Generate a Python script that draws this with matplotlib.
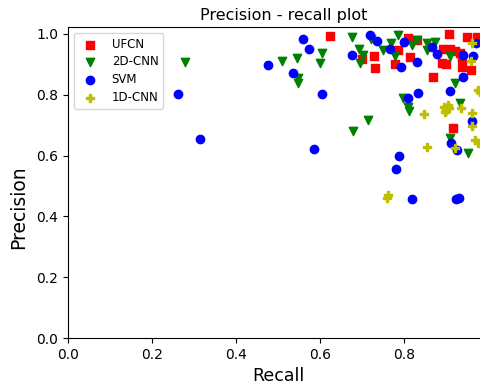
import matplotlib
matplotlib.use('Agg')
import matplotlib.pyplot as plt

# Recall / precision pairs per model
ufcn_recall = [0.624, 0.810, 0.830, 0.908, 0.949, 0.973, 0.701, 0.729, 0.731, 0.786, 0.779, 0.814,
               0.894, 0.910, 0.921, 0.933, 0.890, 0.899, 0.937, 0.937, 0.959, 0.870, 0.917]
ufcn_prec = [0.994, 0.986, 0.980, 0.999, 0.991, 0.989, 0.918, 0.926, 0.887, 0.947, 0.900, 0.923,
             0.950, 0.952, 0.943, 0.936, 0.906, 0.900, 0.920, 0.890, 0.882, 0.858, 0.690]

cnn2d_recall = [0.279, 0.509, 0.546, 0.604, 0.600, 0.548, 0.547, 0.675, 0.721, 0.786, 0.770, 0.818,
                0.830, 0.854, 0.874, 0.693, 0.702, 0.695, 0.751, 0.779, 0.854, 0.910, 0.921, 0.798,
                0.810, 0.813, 0.715, 0.678, 0.933, 0.910, 0.953]
cnn2d_prec = [0.909, 0.912, 0.922, 0.936, 0.906, 0.854, 0.840, 0.991, 0.984, 0.997, 0.971, 0.964,
              0.980, 0.969, 0.975, 0.950, 0.931, 0.904, 0.947, 0.926, 0.947, 0.928, 0.840, 0.788,
              0.759, 0.748, 0.717, 0.682, 0.774, 0.657, 0.610]

svm_recall = [0.262, 0.314, 0.477, 0.536, 0.559, 0.573, 0.604, 0.586, 0.677, 0.719, 0.735, 0.800,
              0.767, 0.794, 0.832, 0.866, 0.878, 0.941, 0.965, 0.971, 0.940, 0.910, 0.833, 0.810,
              0.961, 0.913, 0.925, 0.789, 0.781, 0.818, 0.924, 0.932]
svm_prec = [0.802, 0.655, 0.898, 0.873, 0.983, 0.950, 0.803, 0.621, 0.931, 0.997, 0.977, 0.973,
            0.950, 0.893, 0.907, 0.956, 0.933, 0.931, 0.928, 0.972, 0.858, 0.814, 0.807, 0.788,
            0.715, 0.642, 0.620, 0.599, 0.555, 0.456, 0.456, 0.459]

cnn1d_recall = [0.961, 0.959, 0.980, 0.848, 0.895, 0.900, 0.905, 0.898, 0.908, 0.936, 0.961, 0.963,
                0.921, 0.854, 0.969, 0.977, 0.763, 0.759, 0.977]
cnn1d_prec = [0.971, 0.912, 0.810, 0.737, 0.760, 0.750, 0.765, 0.745, 0.755, 0.756, 0.741, 0.697,
              0.624, 0.629, 0.651, 0.640, 0.470, 0.460, 0.816]

fig = plt.figure(figsize=(4.8, 3.86), dpi=100)
ax = fig.add_axes([68 / 480, 48 / 386, 420 / 480, 311 / 386])

ax.scatter(ufcn_recall, ufcn_prec, c='r', marker='s', s=36, label='UFCN')
ax.scatter(cnn2d_recall, cnn2d_prec, c='g', marker='v', s=36, label='2D-CNN')
ax.scatter(svm_recall, svm_prec, c='b', marker='o', s=36, label='SVM')
ax.scatter(cnn1d_recall, cnn1d_prec, c='y', marker='P', s=40, label='1D-CNN')

ax.set_xlim(0, 1.0)
ax.set_ylim(0, 1.023)
ax.set_xticks([0.0, 0.2, 0.4, 0.6, 0.8])
ax.set_yticks([0.0, 0.2, 0.4, 0.6, 0.8, 1.0])
ax.set_title('Precision - recall plot', fontsize=11.5, pad=5, x=0.514)
ax.set_xlabel('Recall', fontsize=12.5)
ax.set_ylabel('Precision', fontsize=13.5)
ax.yaxis.set_label_coords(-0.094, 0.42)
ax.legend(loc='upper left', fontsize=8.5, labelspacing=0.4)

fig.savefig('out.png', dpi=100)
